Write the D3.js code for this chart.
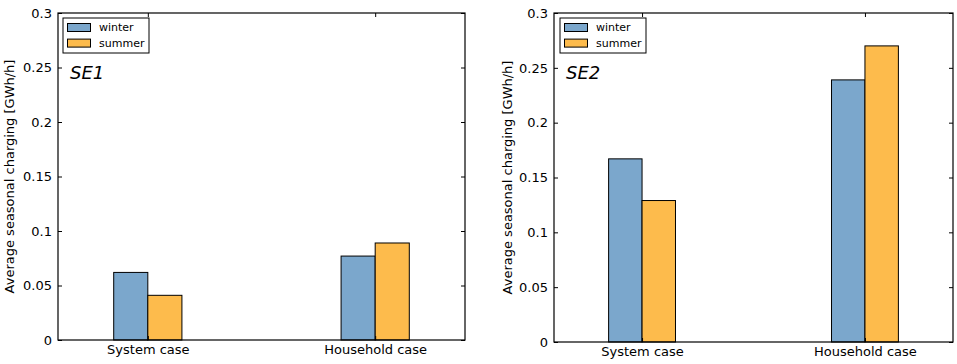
<!DOCTYPE html>
<html>
<head>
<meta charset="utf-8">
<script src="https://cdn.jsdelivr.net/npm/d3@7"></script>
<style>
  html, body { margin: 0; padding: 0; background: #fff; }
  svg { display: block; }
  text { font-family: "DejaVu Sans", sans-serif; fill: #000; }
</style>
</head>
<body>
<svg id="chart" width="957" height="364"></svg>
<script>
// ---- data ----
const categories = ["System case", "Household case"];
const seriesNames = ["winter", "summer"];
const seriesColors = ["#7ba7cc", "#fdbb4c"];
const se1Winter = [0.062, 0.077];
const se1Summer = [0.041, 0.089];
const se2Winter = [0.167, 0.239];
const se2Summer = [0.129, 0.270];
const yTickValues = [0, 0.05, 0.1, 0.15, 0.2, 0.25, 0.3];
const yTickLabels = ["0", "0.05", "0.1", "0.15", "0.2", "0.25", "0.3"];
const yLabel = "Average seasonal charging [GWh/h]";
const panelTitles = ["SE1", "SE2"];

const panels = [
  { title: panelTitles[0], winter: se1Winter, summer: se1Summer,
    x0: 58, x1: 465, y0: 13, y1: 340, ylabX: 9, legDx: 5 },
  { title: panelTitles[1], winter: se2Winter, summer: se2Summer,
    x0: 554, x1: 953, y0: 13, y1: 342, ylabX: 507, legDx: 6 }
];

const svg = d3.select("#chart");
const barW = 0.15;

panels.forEach(p => {
  const g = svg.append("g");
  const x = d3.scaleLinear().domain([-0.395, 1.395]).range([p.x0, p.x1]);
  const y = d3.scaleLinear().domain([0, 0.3]).range([p.y1, p.y0]);

  // bars
  const rows = categories.map((c, i) => ({ c, i, vals: [p.winter[i], p.summer[i]] }));
  rows.forEach(r => {
    r.vals.forEach((v, s) => {
      const left = s === 0 ? r.i - barW : r.i;
      g.append("rect")
        .attr("x", x(left))
        .attr("y", y(v))
        .attr("width", x(left + barW) - x(left))
        .attr("height", y(0) - y(v))
        .attr("fill", seriesColors[s])
        .attr("stroke", "#000")
        .attr("stroke-width", 1);
    });
  });

  // axes
  const fmt = d => yTickLabels[yTickValues.indexOf(d)];
  const ax = g.append("g").attr("transform", `translate(${p.x0},0)`)
    .call(d3.axisLeft(y).tickValues(yTickValues).tickFormat(fmt).tickSize(-4).tickPadding(6));
  g.append("g").attr("transform", `translate(${p.x1},0)`)
    .call(d3.axisRight(y).tickValues(yTickValues).tickFormat("").tickSize(-4));
  g.append("g").attr("transform", `translate(0,${p.y0})`)
    .call(d3.axisTop(x).tickValues([0, 1]).tickFormat("").tickSize(-4));
  g.append("g").attr("transform", `translate(0,${p.y1})`)
    .call(d3.axisBottom(x).tickValues([0, 1]).tickFormat(d => categories[d]).tickSize(-4).tickPadding(5));
  g.selectAll(".domain").remove();
  g.selectAll(".tick line").attr("stroke", "#000").attr("stroke-width", 1);
  g.selectAll(".tick text").style("font-size", "13px").style("font-family", "DejaVu Sans, sans-serif");

  // frame
  g.append("rect")
    .attr("x", p.x0).attr("y", p.y0)
    .attr("width", p.x1 - p.x0).attr("height", p.y1 - p.y0)
    .attr("fill", "none").attr("stroke", "#000").attr("stroke-width", 1.2);

  // y label
  g.append("text")
    .attr("transform", `translate(${p.ylabX},${(p.y0 + p.y1) / 2}) rotate(-90)`)
    .attr("text-anchor", "middle")
    .attr("dominant-baseline", "central")
    .style("font-size", "13px")
    .text(yLabel);

  // panel title
  g.append("text")
    .attr("x", p.x0 + 12).attr("y", p.y0 + 66)
    .style("font-size", "18px").style("font-style", "italic")
    .text(p.title);

  // legend
  const lx = p.x0 + p.legDx, ly = p.y0 + 5;
  const leg = g.append("g").attr("transform", `translate(${lx},${ly})`);
  leg.append("rect").attr("width", 86).attr("height", 35)
    .attr("fill", "#fff").attr("stroke", "#000").attr("stroke-width", 1);
  seriesNames.forEach((n, i) => {
    const cy = 9.5 + i * 15.6;
    leg.append("rect").attr("x", 4.5).attr("y", cy - 4).attr("width", 23).attr("height", 8)
      .attr("fill", seriesColors[i]).attr("stroke", "#000").attr("stroke-width", 1);
    leg.append("text").attr("x", 36).attr("y", cy).attr("dominant-baseline", "central")
      .style("font-size", "11px").text(n);
  });
});
</script>
</body>
</html>
